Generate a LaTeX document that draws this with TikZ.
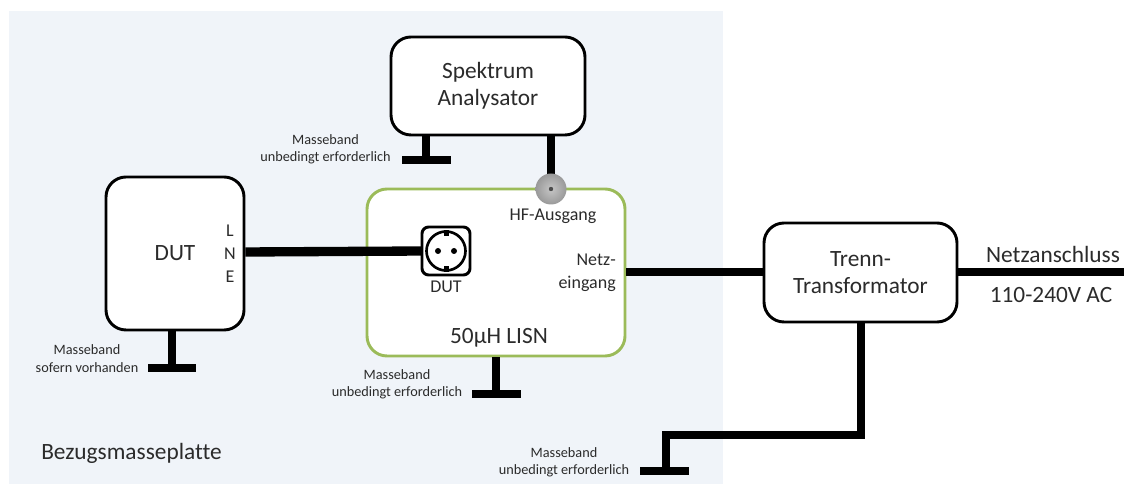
\documentclass[tikz,border=0pt]{standalone}
\usepackage{fontspec}
\usetikzlibrary{calc}
\setmainfont[Ligatures=NoCommon]{Carlito}
\definecolor{plate}{HTML}{F0F4F9}
\definecolor{lisngreen}{HTML}{9BBB59}
\definecolor{txt}{HTML}{2B2B2B}
\tikzset{
  x=0.75pt,y=-0.75pt,
  box/.style={draw=black,line width=2.2pt,fill=white,rounded corners=15pt,inner sep=0pt,align=center,text=txt,font=\fontsize{17.5}{20.5}\selectfont},
  wire/.style={draw=black,line width=6pt},
  thickwire/.style={draw=black,line width=7pt},
  bar/.style={draw=black,line width=6pt},
  small/.style={font=\fontsize{10.7}{12.9}\selectfont,align=center,text=txt,inner sep=0pt},
  mid/.style={font=\fontsize{13.5}{17}\selectfont,align=center,text=txt,inner sep=0pt},
  big/.style={font=\fontsize{17.5}{21}\selectfont,align=center,text=txt,inner sep=0pt},
}
\begin{document}
\begin{tikzpicture}
\useasboundingbox (0,0) rectangle (1124,484);
\fill[plate] (9,11) rectangle (723,484);
% ground straps and stems
\coordinate (gS) at (426,160);
\coordinate (gSa) at (402,160);
\coordinate (gSb) at (451,160);
\coordinate (gD) at (172,368);
\coordinate (gDa) at (148,368);
\coordinate (gDb) at (196,368);
\coordinate (gL) at (496,394);
\coordinate (gLa) at (472,394);
\coordinate (gLb) at (521,394);
\coordinate (gTa) at (640,471);
\coordinate (gTb) at (689,471);
\coordinate (gTc) at (666,435);
\coordinate (gTd) at (860.5,435);
\coordinate (gTe) at (666,471);
\coordinate (netz) at (1124,272.5);
\coordinate (hfw) at (551,180);
\node[box,minimum width=194pt*0.75,minimum height=98pt*0.75] (spec) at (488,86) {Spektrum\\Analysator};
\node[box,minimum width=138pt*0.75,minimum height=153pt*0.75] (dut) at (175,253.5) {DUT};
\node[box,draw=lisngreen,line width=2.2pt,minimum width=258pt*0.75,minimum height=167pt*0.75] (lisn) at (496,272.5) {};
\node[box,minimum width=193pt*0.75,minimum height=99pt*0.75] (trafo) at (860.5,272.5) {Trenn-\\Transformator};
% connectors
\draw[wire] (hfw |- spec.south) -- (hfw);
\draw[wire] (gS |- spec.south) -- (gS);
\draw[bar] (gSa) -- (gSb);
\draw[wire] (gD |- dut.south) -- (gD);
\draw[bar] (gDa) -- (gDb);
\draw[wire] (lisn.south -| gL) -- (gL);
\draw[bar] (gLa) -- (gLb);
\draw[thickwire] (dut.east |- 0,252) -- (422,251);
\draw[wire] (lisn.east) -- (trafo.west);
\draw[wire] (trafo.east) -- (netz);
\draw[wire,line join=miter] (trafo.south) -- (gTd) -- (gTc) -- (gTe);
\draw[bar] (gTa) -- (gTb);
% coax connector
\node[circle,inner sep=0pt,minimum size=31pt*0.75,shade,inner color=gray!45,outer color=gray!80] (hf) at (551,189) {};
\fill[black!70] (hf.center) circle (2.2);
% socket
\node[draw=black,line width=2.2pt,rounded corners=5pt,fill=white,minimum size=48pt*0.75,inner sep=0pt] (sock) at (446,251) {};
\draw[black,line width=2pt] (sock.center) circle (19.5);
\fill[black] (sock.center) ++(-8,0) circle (3);
\fill[black] (sock.center) ++(8,0) circle (3);
\fill[black] ($(sock.center)+(-2.5,-21)$) rectangle ++(5,6);
\fill[black] ($(sock.center)+(-2.5,15)$) rectangle ++(5,6);
% labels
\node[small] (t1) at (325.5,149.5) {Masseband\\unbedingt erforderlich};
\node[small] (t2) at (87,358.5) {Masseband\\sofern vorhanden};
\node[small] (t3) at (397,384) {Masseband\\unbedingt erforderlich};
\node[small] (t4) at (564,462) {Masseband\\unbedingt erforderlich};
\node[mid] (l1) at (230,231) {L};
\node[mid] (l2) at (230,254) {N};
\node[mid] (l3) at (230,277) {E};
\node[mid] (hft) at (553,216) {HF-Ausgang};
\node[mid] (dutt) at (446,287) {DUT};
\node[mid,align=right,anchor=east] (ne) at (616,273) {Netz-\\eingang};
\node[big] (ln) at (499,338) {50µH LISN};
\node[big] (na) at (1053,254) {Netzanschluss};
\node[big] (ac) at (1051,295) {110-240V AC};
\node[big,anchor=west] (bz) at (41,453) {Bezugsmasseplatte};
\end{tikzpicture}
\end{document}
